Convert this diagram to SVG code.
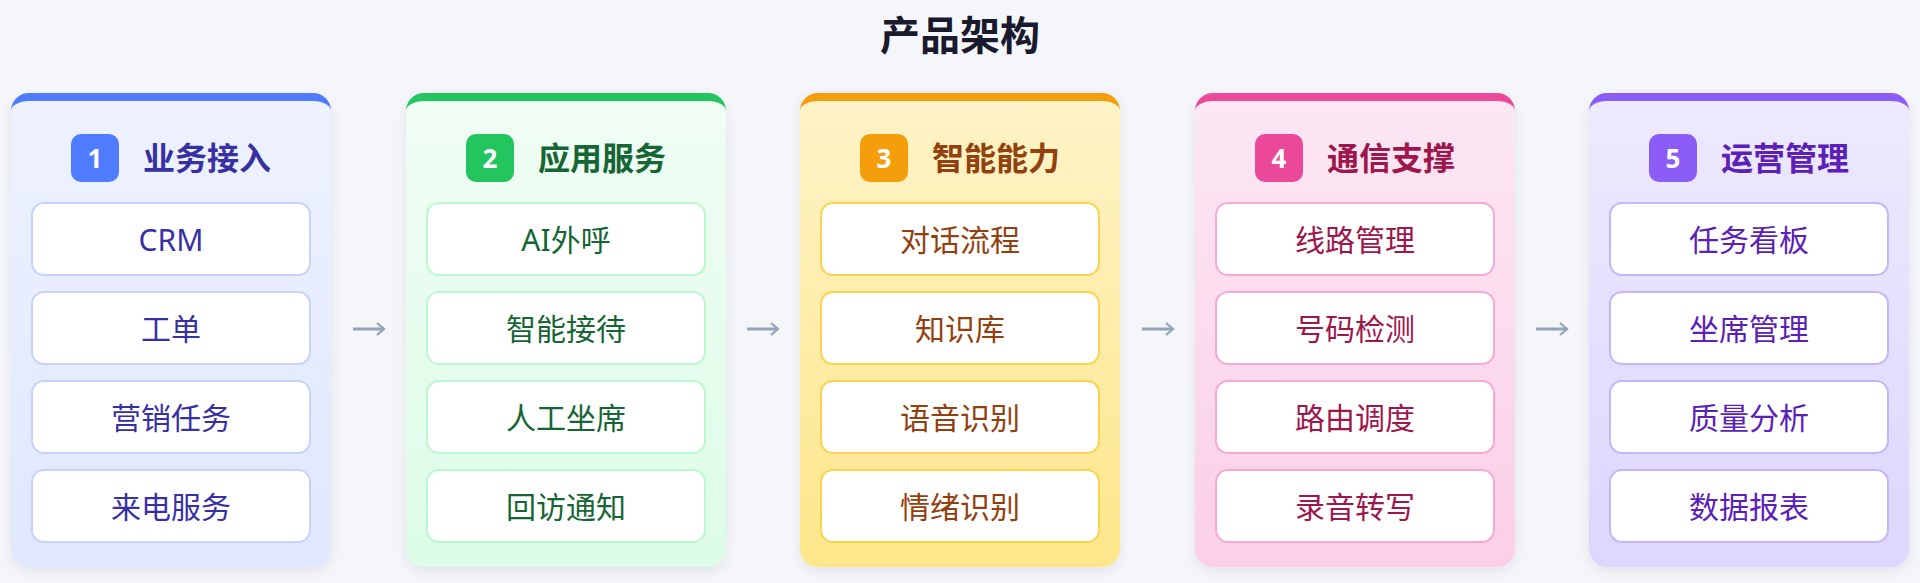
<svg xmlns="http://www.w3.org/2000/svg" width="1920" height="583" viewBox="0 0 1920 583">
<defs>
<style>
text{font-family:"Noto Sans","Noto Sans CJK SC",sans-serif}
.title{font-size:40px;font-weight:700;fill:#1a1a2e;text-anchor:middle}
.head{font-size:32px;font-weight:700}
.num{font-size:26px;font-weight:700;fill:#fff;text-anchor:middle}
.item{fill:#fff;stroke-width:2}
.it{font-size:30px;text-anchor:middle}
.arrow{stroke:#94a3b8;stroke-width:3;fill:none}
.p1 .item{stroke:#c7d2fe}.p1 text.c{fill:#3730a3}
.p2 .item{stroke:#bbf7d0}.p2 text.c{fill:#166534}
.p3 .item{stroke:#fcd34d}.p3 text.c{fill:#92400e}
.p4 .item{stroke:#f9a8d4}.p4 text.c{fill:#9d174d}
.p5 .item{stroke:#c4b5fd}.p5 text.c{fill:#5b21b6}
</style>
<filter id="sh" x="-10%" y="-10%" width="120%" height="125%">
<feDropShadow dx="0" dy="4" stdDeviation="6" flood-color="#1e293b" flood-opacity="0.08"/>
</filter>
<linearGradient id="g1" x1="0" y1="0" x2="0" y2="1"><stop offset="0" stop-color="#eef2ff"/><stop offset="1" stop-color="#e0e7ff"/></linearGradient>
<linearGradient id="g2" x1="0" y1="0" x2="0" y2="1"><stop offset="0" stop-color="#f0fdf4"/><stop offset="1" stop-color="#dcfce7"/></linearGradient>
<linearGradient id="g3" x1="0" y1="0" x2="0" y2="1"><stop offset="0" stop-color="#fef3c7"/><stop offset="1" stop-color="#fde68a"/></linearGradient>
<linearGradient id="g4" x1="0" y1="0" x2="0" y2="1"><stop offset="0" stop-color="#fce7f3"/><stop offset="1" stop-color="#fbcfe8"/></linearGradient>
<linearGradient id="g5" x1="0" y1="0" x2="0" y2="1"><stop offset="0" stop-color="#ede9fe"/><stop offset="1" stop-color="#ddd6fe"/></linearGradient>
<path id="accent" d="M0,111 A18,18 0 0 1 18,93 H302 A18,18 0 0 1 320,111 Z"/>
<path id="body" d="M0,111 A18,10 0 0 1 18,101 H302 A18,10 0 0 1 320,111 V549 A18,18 0 0 1 302,567 H18 A18,18 0 0 1 0,549 Z"/>
<marker id="ah" markerWidth="10" markerHeight="14" refX="8" refY="7" orient="auto" markerUnits="userSpaceOnUse">
<path d="M1,1 L8,7 L1,13" fill="none" stroke="#94a3b8" stroke-width="2.2"/>
</marker>
</defs>
<rect width="1920" height="583" fill="#f5f6fa"/>
<text class="title" x="960" y="50">产品架构</text>

<g id="panel-1" class="p1" transform="translate(11,0)">
<g filter="url(#sh)"><use href="#accent" fill="#4f7cff"/><use href="#body" fill="url(#g1)"/></g>
<rect x="60" y="134" width="48" height="48" rx="10" fill="#4f7cff"/>
<text class="num" x="84" y="168">1</text>
<text class="head c" x="132" y="170">业务接入</text>
<rect class="item" x="21" y="203" width="278" height="72" rx="12"/><text class="it c" x="160" y="251">CRM</text>
<rect class="item" x="21" y="292" width="278" height="72" rx="12"/><text class="it c" x="160" y="340">工单</text>
<rect class="item" x="21" y="381" width="278" height="72" rx="12"/><text class="it c" x="160" y="429">营销任务</text>
<rect class="item" x="21" y="470" width="278" height="72" rx="12"/><text class="it c" x="160" y="518">来电服务</text>
</g>

<g id="panel-2" class="p2" transform="translate(406,0)">
<g filter="url(#sh)"><use href="#accent" fill="#22c55e"/><use href="#body" fill="url(#g2)"/></g>
<rect x="60" y="134" width="48" height="48" rx="10" fill="#22c55e"/>
<text class="num" x="84" y="168">2</text>
<text class="head c" x="132" y="170">应用服务</text>
<rect class="item" x="21" y="203" width="278" height="72" rx="12"/><text class="it c" x="160" y="251">AI外呼</text>
<rect class="item" x="21" y="292" width="278" height="72" rx="12"/><text class="it c" x="160" y="340">智能接待</text>
<rect class="item" x="21" y="381" width="278" height="72" rx="12"/><text class="it c" x="160" y="429">人工坐席</text>
<rect class="item" x="21" y="470" width="278" height="72" rx="12"/><text class="it c" x="160" y="518">回访通知</text>
</g>

<g id="panel-3" class="p3" transform="translate(800,0)">
<g filter="url(#sh)"><use href="#accent" fill="#f59e0b"/><use href="#body" fill="url(#g3)"/></g>
<rect x="60" y="134" width="48" height="48" rx="10" fill="#f59e0b"/>
<text class="num" x="84" y="168">3</text>
<text class="head c" x="132" y="170">智能能力</text>
<rect class="item" x="21" y="203" width="278" height="72" rx="12"/><text class="it c" x="160" y="251">对话流程</text>
<rect class="item" x="21" y="292" width="278" height="72" rx="12"/><text class="it c" x="160" y="340">知识库</text>
<rect class="item" x="21" y="381" width="278" height="72" rx="12"/><text class="it c" x="160" y="429">语音识别</text>
<rect class="item" x="21" y="470" width="278" height="72" rx="12"/><text class="it c" x="160" y="518">情绪识别</text>
</g>

<g id="panel-4" class="p4" transform="translate(1195,0)">
<g filter="url(#sh)"><use href="#accent" fill="#ec4899"/><use href="#body" fill="url(#g4)"/></g>
<rect x="60" y="134" width="48" height="48" rx="10" fill="#ec4899"/>
<text class="num" x="84" y="168">4</text>
<text class="head c" x="132" y="170">通信支撑</text>
<rect class="item" x="21" y="203" width="278" height="72" rx="12"/><text class="it c" x="160" y="251">线路管理</text>
<rect class="item" x="21" y="292" width="278" height="72" rx="12"/><text class="it c" x="160" y="340">号码检测</text>
<rect class="item" x="21" y="381" width="278" height="72" rx="12"/><text class="it c" x="160" y="429">路由调度</text>
<rect class="item" x="21" y="470" width="278" height="72" rx="12"/><text class="it c" x="160" y="518">录音转写</text>
</g>

<g id="panel-5" class="p5" transform="translate(1589,0)">
<g filter="url(#sh)"><use href="#accent" fill="#8b5cf6"/><use href="#body" fill="url(#g5)"/></g>
<rect x="60" y="134" width="48" height="48" rx="10" fill="#8b5cf6"/>
<text class="num" x="84" y="168">5</text>
<text class="head c" x="132" y="170">运营管理</text>
<rect class="item" x="21" y="203" width="278" height="72" rx="12"/><text class="it c" x="160" y="251">任务看板</text>
<rect class="item" x="21" y="292" width="278" height="72" rx="12"/><text class="it c" x="160" y="340">坐席管理</text>
<rect class="item" x="21" y="381" width="278" height="72" rx="12"/><text class="it c" x="160" y="429">质量分析</text>
<rect class="item" x="21" y="470" width="278" height="72" rx="12"/><text class="it c" x="160" y="518">数据报表</text>
</g>

<g id="connectors">
<line class="arrow" x1="353" y1="329" x2="384" y2="329" marker-end="url(#ah)"/>
<line class="arrow" x1="747" y1="329" x2="778" y2="329" marker-end="url(#ah)"/>
<line class="arrow" x1="1142" y1="329" x2="1173" y2="329" marker-end="url(#ah)"/>
<line class="arrow" x1="1536" y1="329" x2="1567" y2="329" marker-end="url(#ah)"/>
</g>
</svg>
